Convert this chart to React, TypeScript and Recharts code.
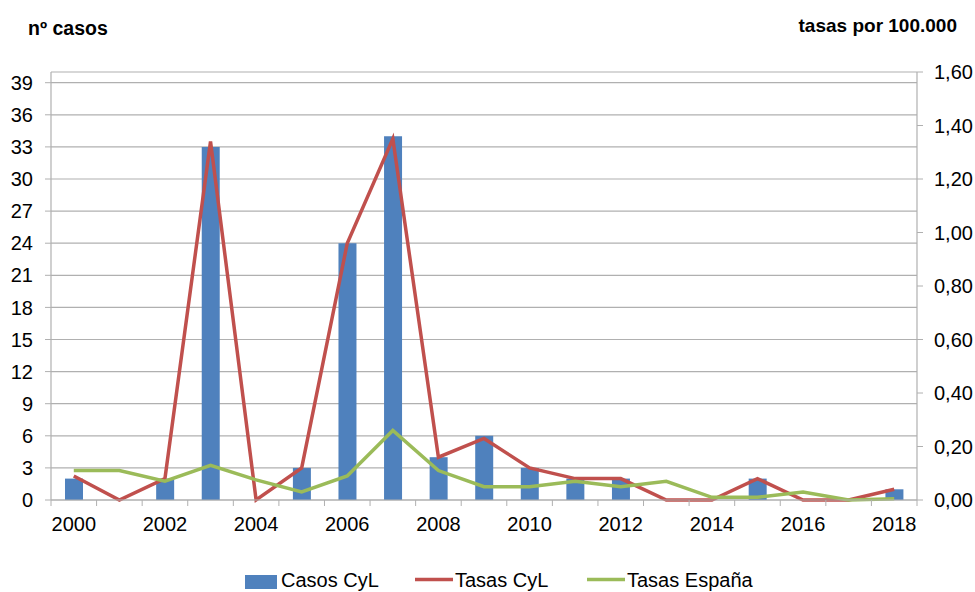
import React from 'react';
import { ComposedChart, Bar, Line, XAxis, YAxis, CartesianGrid } from 'recharts';

const years = ['2000','2001','2002','2003','2004','2005','2006','2007','2008','2009','2010','2011','2012','2013','2014','2015','2016','2017','2018'];
const casosCyL = [2, 0, 2, 33, 0, 3, 24, 34, 4, 6, 3, 2, 2, 0, 0, 2, 0, 0, 1];
const tasasCyL = [0.09, 0, 0.08, 1.34, 0, 0.12, 0.96, 1.35, 0.16, 0.23, 0.12, 0.08, 0.08, 0, 0, 0.08, 0, 0, 0.04];
const tasasEspana = [0.11, 0.11, 0.07, 0.13, 0.075, 0.03, 0.09, 0.26, 0.11, 0.05, 0.05, 0.07, 0.05, 0.07, 0.01, 0.01, 0.03, 0.0, 0.005];
const leftTicks = [0, 3, 6, 9, 12, 15, 18, 21, 24, 27, 30, 33, 36, 39];
const rightTicks = [0, 0.2, 0.4, 0.6, 0.8, 1.0, 1.2, 1.4, 1.6];

const data = years.map((y, i) => ({ year: y, casos: casosCyL[i], tasasCyL: tasasCyL[i], tasasEsp: tasasEspana[i] }));

const W = 975;
const H = 592;
const LEFT = 51;
const RIGHT_W = 58;
const TOP = 72;
const PLOT_W = W - LEFT - RIGHT_W;
const AXIS_GRAY = '#B0B0B0';
const FONT = 'Liberation Sans, Arial, sans-serif';
const BLUE = '#4F81BD';
const RED = '#C0504D';
const GREEN = '#9BBB59';

const XTick = (props: any) => {
  const { x, y, payload, index } = props;
  const bw = PLOT_W / years.length;
  return (
    <g>
      <line x1={x - bw / 2} x2={x - bw / 2} y1={y} y2={y + 6} stroke={AXIS_GRAY} strokeWidth={1} />
      {index === years.length - 1 && (
        <line x1={x + bw / 2} x2={x + bw / 2} y1={y} y2={y + 6} stroke={AXIS_GRAY} strokeWidth={1} />
      )}
      {index % 2 === 0 && (
        <text x={x} y={y + 31} textAnchor="middle" fontSize={20} fontFamily={FONT} fill="#000">
          {payload.value}
        </text>
      )}
    </g>
  );
};

export default function App() {
  return (
    <div style={{ position: 'absolute', left: 0, top: 0, width: W, height: H, background: '#fff' }}>
      <ComposedChart width={W} height={H} data={data} margin={{ top: TOP, right: 0, bottom: 52, left: 0 }} barCategoryGap={0}>
        <CartesianGrid vertical={false} yAxisId="left" stroke={AXIS_GRAY} strokeWidth={1.2} />
        <XAxis
          dataKey="year"
          interval={0}
          tick={<XTick />}
          tickLine={false}
          tickSize={0}
          tickMargin={0}
          height={40}
          axisLine={{ stroke: AXIS_GRAY, strokeWidth: 1.2 }}
        />
        <YAxis
          yAxisId="left"
          domain={[0, 40]}
          ticks={leftTicks}
          interval={0}
          width={LEFT}
          tickSize={6}
          tickMargin={12}
          axisLine={{ stroke: AXIS_GRAY, strokeWidth: 1.2 }}
          tickLine={{ stroke: AXIS_GRAY }}
          tick={{ fontSize: 20, fill: '#000', fontFamily: FONT }}
        />
        <YAxis
          yAxisId="right"
          orientation="right"
          domain={[0, 1.6]}
          ticks={rightTicks}
          interval={0}
          width={RIGHT_W}
          tickSize={6}
          tickMargin={11}
          axisLine={{ stroke: AXIS_GRAY, strokeWidth: 1.2 }}
          tickLine={{ stroke: AXIS_GRAY }}
          tickFormatter={(v: number) => v.toFixed(2).replace('.', ',')}
          tick={{ fontSize: 20, fill: '#000', fontFamily: FONT }}
        />
        <Bar yAxisId="left" dataKey="casos" name="Casos CyL" fill={BLUE} barSize={18} isAnimationActive={false} />
        <Line yAxisId="right" type="linear" dataKey="tasasCyL" name="Tasas CyL" stroke={RED} strokeWidth={3.5} dot={false} isAnimationActive={false} />
        <Line yAxisId="right" type="linear" dataKey="tasasEsp" name="Tasas España" stroke={GREEN} strokeWidth={3.5} dot={false} isAnimationActive={false} />
      </ComposedChart>
      <svg width={W} height={H} style={{ position: 'absolute', left: 0, top: 0, pointerEvents: 'none' }}>
        <text x={28} y={35} fontSize={19.5} fontWeight="bold" fontFamily={FONT} fill="#000">nº casos</text>
        <text x={957} y={32} fontSize={19} fontWeight="bold" fontFamily={FONT} fill="#000" textAnchor="end">tasas por 100.000</text>
        <rect x={245} y={575} width={32} height={14} fill={BLUE} />
        <text x={281} y={587} fontSize={20} fontFamily={FONT} fill="#000">Casos CyL</text>
        <line x1={415} x2={453} y1={579.5} y2={579.5} stroke={RED} strokeWidth={3.5} />
        <text x={455} y={587} fontSize={20} fontFamily={FONT} fill="#000">Tasas CyL</text>
        <line x1={587} x2={625} y1={579.5} y2={579.5} stroke={GREEN} strokeWidth={3.5} />
        <text x={627} y={587} fontSize={20} fontFamily={FONT} fill="#000">Tasas España</text>
      </svg>
    </div>
  );
}
